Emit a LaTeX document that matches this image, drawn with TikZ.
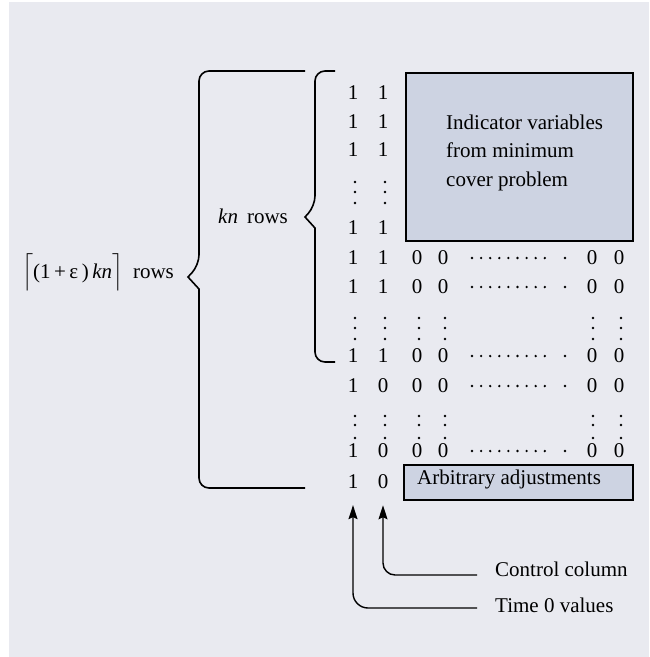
\documentclass[tikz,border=0pt]{standalone}
\usepackage{exscale}
\usepackage{fontspec}
\setmainfont{Liberation Serif}
\usetikzlibrary{arrows.meta}
\definecolor{bg}{RGB}{233,234,240}
\definecolor{boxfill}{RGB}{205,211,226}
\begin{document}
\begin{tikzpicture}[x=1pt,y=-1pt,
  every node/.style={inner sep=0pt, font=\fontsize{21}{28.5}\selectfont},
  num/.style={anchor=center},
  brace/.style={draw=black, line width=1.6pt},
  panel/.style={draw=black, line width=1.8pt, fill=boxfill, anchor=north west},
  pointer/.style={draw=black, line width=1.4pt, -{Stealth[length=14pt,width=9pt,inset=2pt]}}]
\useasboundingbox (0,0) rectangle (649,657);
\fill[bg] (9,2) rectangle (649,657);

% panels
\node[panel, minimum width=227pt, minimum height=168pt] (indbox) at (405,72) {};
\node[anchor=north west, align=left] (indtext) at (446,114.5) {Indicator variables\\from minimum\\cover problem};
\node[panel, minimum width=229pt, minimum height=35pt] (arbbox) at (403,464) {};
\node[anchor=base west] (arbtext) at (417,484) {Arbitrary adjustments};

% digits
\foreach \r/\y/\a/\b in {1/93/1/1, 2/122/1/1, 3/150/1/1, 4/228/1/1, 5/258/1/1, 6/287/1/1, 7/356/1/1, 8/386/1/0, 9/451/1/0, 10/482/1/0}{
  \node[num] (r\r-c1) at (353,\y) {\a};
  \node[num] (r\r-c2) at (383,\y) {\b};
}
\foreach \r/\y in {5/258, 6/287, 7/356, 8/386, 9/451}{
  \node[num] (r\r-c3) at (417,\y) {0};
  \node[num] (r\r-c4) at (443,\y) {0};
  \node[num] (r\r-c5) at (592,\y) {0};
  \node[num] (r\r-c6) at (619,\y) {0};
  \foreach \i in {0,...,8}{ \fill (472+9.1*\i,\y) circle (1.3pt); }
  \fill (565,\y) circle (1.3pt);
}
% vertical dots
\foreach \y in {182,192,203}{
  \foreach \x in {355,385}{ \fill (\x,\y) circle (1.4pt); }
}
\foreach \y in {318,328,339, 416,425,438}{
  \foreach \x in {355,385,419,445,593,621}{ \fill (\x,\y) circle (1.4pt); }
}

% braces
\draw[brace, rounded corners=10pt] (305,71) -- (199,71) -- (199,265) [sharp corners] -- (188,277) -- (199,289) [rounded corners=10pt] -- (199,488) -- (305,488);
\draw[brace, rounded corners=10pt] (335,71) -- (315,71) -- (315,206) [sharp corners] -- (305,217) -- (315,228) [rounded corners=10pt] -- (315,362) -- (335,362);

% brace labels
\node[anchor=base west] (knlab) at (218,223) {\textit{kn}\hspace{9pt}rows};
\node[anchor=base west] (biglab) at (22,278) {$\left\lceil\rule[-14pt]{0pt}{37pt}\mbox{(1\,+\,ε\,)\,\textit{kn}}\right\rceil$\hspace{10pt}rows};

% pointers
\node[anchor=base west] (ctrl) at (495,576) {Control column};
\node[anchor=base west] (time0) at (495,612) {Time 0 values};
\draw[pointer, rounded corners=12pt] ([xshift=-18pt,yshift=1pt]ctrl.base west) -| ([yshift=-16pt]r10-c2.south);
\draw[pointer, rounded corners=15pt] ([xshift=-18pt,yshift=4pt]time0.base west) -| ([yshift=-16pt]r10-c1.south);
\end{tikzpicture}
\end{document}
